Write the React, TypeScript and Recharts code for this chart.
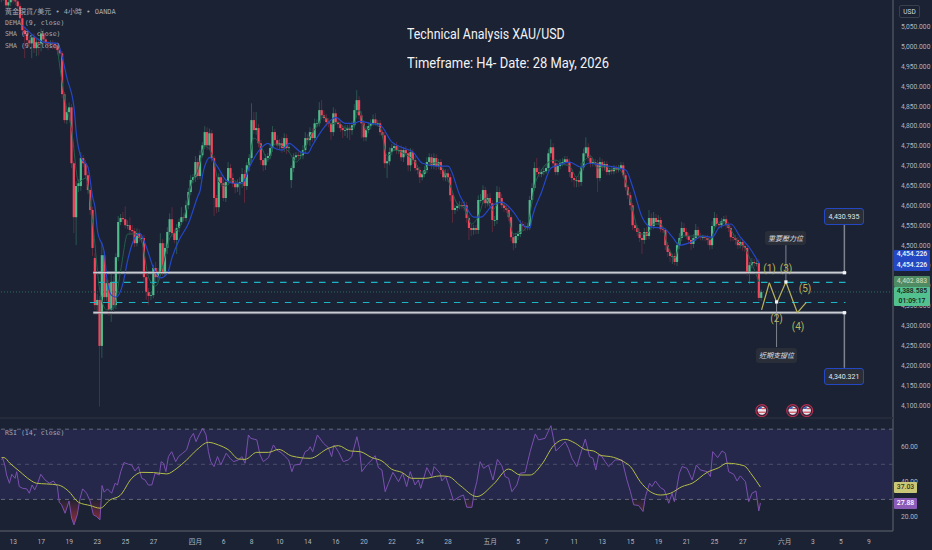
import React from "react";
import {
  ComposedChart, Bar, Line, Area, XAxis, YAxis, ReferenceLine, ReferenceArea, ReferenceDot,
} from "recharts";

// ---------- price pane data ----------
const closes = [
  5135,5125,5102,5110,5120,5115,5112,5100,5070,5040,
  5030,5015,5007,5022,4995,5010,5007,5032,5017,5007,
  5005,5007,5005,5002,4990,4982,4880,4815,4835,4847,
  4707,4572,4650,4657,4720,4707,4677,4640,4590,4495,
  4352,4365,4250,4477,4372,4407,4340,4410,4352,4472,
  4560,4570,4567,4552,4552,4540,4537,4507,4532,4520,
  4520,4422,4385,4375,4377,4445,4422,4435,4507,4435,
  4495,4535,4567,4532,4515,4545,4560,4572,4570,4602,
  4635,4665,4672,4710,4675,4727,4752,4785,4752,4782,
  4720,4620,4597,4672,4657,4620,4660,4695,4670,4657,
  4647,4657,4660,4680,4650,4702,4720,4815,4790,4795,
  4757,4715,4702,4720,4725,4745,4785,4765,4752,4757,
  4745,4770,4745,4747,4695,4722,4727,4725,4727,4740,
  4770,4765,4785,4770,4807,4807,4840,4827,4820,4810,
  4807,4785,4832,4810,4805,4795,4790,4790,4795,4790,
  4802,4840,4865,4827,4807,4772,4790,4800,4807,4817,
  4807,4807,4785,4777,4707,4712,4735,4745,4750,4740,
  4740,4722,4740,4732,4702,4735,4715,4695,4690,4672,
  4680,4690,4710,4722,4702,4720,4700,4710,4690,4672,
  4682,4672,4627,4590,4595,4600,4602,4600,4602,4570,
  4545,4540,4545,4540,4615,4615,4640,4607,4620,4607,
  4565,4565,4635,4620,4602,4595,4590,4572,4522,4507,
  4525,4530,4555,4550,4547,4550,4615,4645,4695,4685,
  4680,4685,4687,4695,4732,4747,4707,4685,4700,4707,
  4710,4717,4710,4685,4670,4665,4665,4660,4697,4732,
  4747,4720,4707,4710,4707,4670,4710,4697,4705,4685,
  4690,4687,4695,4690,4695,4702,4677,4647,4627,4602,
  4552,4545,4535,4520,4515,4535,4525,4570,4550,4570,
  4560,4565,4542,4540,4502,4485,4475,4475,4460,4502,
  4520,4545,4535,4525,4515,4505,4520,4540,4525,4522,
  4522,4520,4515,4502,4550,4570,4555,4552,4562,4567,
  4552,4545,4522,4520,4515,4502,4510,4500,4495,4435,
  4452,4460,4457,4457,4370,4385,
];
const upperWicks = [
  8,10,12,8,10,8,10,12,8,10,
  8,6,10,8,10,8,10,12,10,8,
  6,8,8,6,8,5,6,6,8,12,
  8,6,12,10,15,8,8,10,6,8,
  12,15,10,32,10,10,8,20,15,10,
  15,10,15,32,12,20,12,8,12,10,
  10,8,10,10,8,8,15,10,25,10,
  12,12,15,30,10,10,8,25,10,12,
  10,12,8,15,10,12,8,15,12,12,
  8,6,8,10,8,10,8,15,10,12,
  8,10,12,15,10,8,10,42,20,40,
  10,8,6,10,8,12,15,8,12,10,
  15,12,10,8,6,10,8,8,10,12,
  15,10,12,10,12,10,20,25,12,10,
  10,8,15,10,8,10,8,12,8,10,
  10,15,25,10,10,8,10,8,10,12,
  15,8,8,6,8,10,12,10,8,10,
  8,12,8,10,10,10,8,10,6,8,
  8,10,12,10,8,12,10,8,8,6,
  10,10,8,6,8,8,10,8,10,8,
  8,10,8,8,12,15,12,8,10,12,
  8,10,15,12,10,8,10,8,6,8,
  8,8,10,8,10,8,10,12,15,25,
  12,8,8,10,10,20,10,8,8,10,
  10,8,8,8,6,6,8,10,12,12,
  25,10,8,8,8,8,12,8,8,8,
  6,8,8,8,8,8,8,6,6,8,
  6,6,8,8,10,10,12,20,12,15,
  10,12,8,8,6,8,6,6,8,8,
  12,15,12,10,8,8,10,15,8,8,
  6,6,8,8,12,15,10,8,8,8,
  10,8,6,8,8,8,8,8,6,6,
  8,10,8,8,10,6,
];
const lowerWicks = [
  10,12,15,8,10,8,10,12,15,12,
  60,12,10,37,12,20,30,20,15,8,
  15,10,12,10,12,8,10,8,10,20,
  12,40,70,15,12,10,8,10,12,20,
  12,15,152,30,12,10,15,30,20,10,
  10,8,8,8,10,12,10,10,8,10,
  10,15,20,22,10,8,10,12,10,10,
  10,15,8,10,8,35,10,8,10,8,
  10,8,8,12,10,8,6,10,12,10,
  10,45,15,12,10,8,10,8,12,10,
  15,12,30,15,42,10,15,12,10,12,
  10,12,15,12,10,8,10,10,8,10,
  12,10,15,10,20,10,8,8,8,10,
  10,12,15,10,8,10,8,6,8,10,
  10,20,10,8,10,10,20,15,20,25,
  12,8,8,10,37,10,10,8,8,6,
  6,8,8,8,12,37,10,8,8,10,
  10,10,12,8,15,15,10,8,10,15,
  8,8,8,8,10,10,10,8,10,8,
  10,12,15,32,10,8,8,8,12,12,
  30,15,12,10,10,8,10,12,8,10,
  30,15,10,10,8,10,8,10,10,18,
  12,10,8,10,10,8,10,8,8,8,
  8,8,8,6,8,10,10,8,8,8,
  8,8,10,12,10,18,18,12,10,8,
  8,8,10,8,10,35,8,10,8,8,
  8,8,8,8,6,8,8,8,10,12,
  12,8,10,10,35,10,10,8,10,8,
  8,8,8,8,12,12,15,20,8,10,
  10,8,8,8,10,15,10,8,8,8,
  8,8,12,12,10,8,8,8,8,8,
  8,10,10,8,12,10,8,12,10,10,
  30,8,8,8,8,8,
];
// opens that do not sit on the previous close (gaps)
const gapOpens: Record<number, number> = { 0: 5120, 34: 4650, 40: 4470, 43: 4250, 124: 4665, 193: 4627 };

const smaIdx = [9,15,18,24,26,28,31,32,34,37,39,40,41,44,45,47,49,52,54,56,59,62,65,68,71,73,76,80,84,85,86,88,89,92,96,99,103,106,111,114,116,120,123,128,131,133,138,143,147,151,153,158,162,167,172,176,180,186,191,196,199,202,205,210,214,219,223,226,227,231,235,238,243,248,251,257,267,270,274,278,283,287,290,295,300,304,307,312,316,320,324];
const smaVal = [5052,5020,5010,5007,4972,4920,4847,4782,4722,4697,4622,4597,4540,4482,4422,4377,4372,4407,4465,4507,4532,4497,4445,4420,4432,4472,4515,4557,4625,4640,4677,4715,4722,4702,4665,4657,4657,4697,4745,4757,4747,4740,4757,4735,4732,4752,4797,4822,4807,4807,4812,4807,4802,4760,4745,4735,4707,4700,4700,4627,4595,4572,4572,4602,4610,4585,4552,4545,4572,4635,4695,4702,4710,4697,4707,4702,4690,4647,4572,4547,4545,4522,4502,4510,4525,4522,4547,4555,4522,4495,4457];
const demaIdx = [24,27,30,33,36,39,42,45,48,51,54,57,60,63,66,69,72,75,78,81,84,87,90,93,96,99,102,105,108,111,114,117,120,123,126,129,132,135,138,141,144,147,150,153,156,159,162,165,168,171,174,177,180,183,186,189,192,195,198,201,204,207,210,213,216,219,222,225,228,231,234,237,240,243,246,249,252,255,258,261,264,267,270,273,276,279,282,285,288,291,294,297,300,303,306,309,312,315,318,321,324];
const demaVal = [4990,4870,4790,4660,4670,4560,4390,4340,4345,4440,4530,4530,4510,4420,4400,4450,4520,4540,4570,4650,4690,4750,4730,4660,4650,4665,4655,4680,4770,4750,4715,4755,4750,4735,4710,4735,4775,4800,4825,4805,4810,4795,4795,4840,4790,4805,4795,4725,4740,4735,4725,4710,4680,4705,4708,4690,4650,4605,4595,4555,4575,4620,4590,4610,4595,4530,4535,4550,4650,4690,4710,4715,4705,4700,4672,4710,4725,4695,4700,4692,4692,4660,4590,4530,4530,4555,4555,4500,4470,4525,4525,4525,4525,4515,4555,4560,4540,4510,4495,4455,4410];

// ---------- RSI pane data ----------
const rsiX = [0,0.5,1.4,2.2,3.4,4.4,5.8,6.5,7.6,9.1,10.8,11.9,13.1,14.2,15.3,16.8,18.6,20.5,22.2,23.9,24.7,25.7,27.2,28.9,30,31,32.4,33.6,34.7,36.4,37.9,39.3,40.7,42.1,43,43.9,45.3,47.1,48.6,49.6,51,52.4,54.3,55.7,57.1,58.6,60,61.4,62.8,64.3,65.7,67.5,68.3,69.3,70.3,71.4,72.8,74.5,75.7,77.5,79.2,80.7,82.1,83.2,84.5,86.1,87.5,88.5,89.5,90.9,92.4,93.8,96.1,97.8,99.2,101.4,102.8,104.2,105.6,106.6,109.2,110.6,112,114.2,116.3,117.7,119.9,121.3,122.8,124.2,125.2,127.7,129.9,131.3,
  132,133.1,135.1,137.7,139.8,141.2,142.2,144.1,146.2,148.4,149.8,152,153.1,154.1,156.2,158.4,159.8,161.2,162.7,164.1,165.5,167.4,169.8,171.6,173.3,174.8,176.9,178.3,179.3,181.9,184,185,187.6,188.3,190,191.9,193.3,195.9,197.6,199,201.2,202.2,203.3,204.7,206.2,208.3,210.2,212.1,214,215.4,216.9,218.3,220.4,221.9,224,226.1,228.3,229.7,232.5,235,237.1,239,241.1,242.5,244,246.1,247.5,249.7,251.5,253,254.2,255.4,256.8,258.2,259.7,
  260.4,262.5,265.4,267.5,269,270.4,272.5,274.4,275.4,277.2,278.2,279.7,281.8,283.5,285.4,286.8,287.8,289.9,291.1,293.2,295.4,297.2,298.9,301.8,303.2,304.2,306.3,308.2,309.6,311,313.2,314.6,316,318.2,319.6,321,322.7,323.9,324.6];
const rsiVal = [52.5,53.4,49.6,43.9,39.2,44.3,42,45.8,37.3,36.3,36,33.5,38.2,35.4,38.6,44.3,41.1,39.2,40.5,37.3,28.4,26.9,22.1,29.1,19.3,15.5,21.2,30.6,36,33.5,29.1,21.2,20.2,18.3,37.9,34.1,36,33.5,39.2,38.2,45.8,51,50,49.6,46.2,48.7,42,41.1,38.2,38.2,44.9,43.9,51.5,50.6,45.8,54.4,57.2,51.5,54.4,56.3,58.2,64.8,67.6,62.9,66.7,70.5,66.7,57.2,51.5,48.7,54.4,49.6,56.3,53.4,51.5,52.5,54.4,50.6,66.7,64.8,63.9,55.3,51.5,53.8,61,58.2,56.3,54.4,52.5,45.8,49.6,50,57.2,58.2,
  60,57.2,66.7,62,59.5,54.4,61,57.2,51.5,52.5,54.4,65.7,59.1,45.8,49.6,52.5,54.9,48.1,46.8,34.4,39.2,45.4,40.1,44.9,37.3,45.8,38.2,41.1,36.3,48.1,43,48.7,44.9,40.5,43,35.4,29.3,31.6,32.5,25.5,25.5,34.4,40.1,51.5,47.7,49.6,41.1,52.8,49.2,43,42,34.4,38.2,44.9,45.4,57.2,67.3,63.9,64.8,72,57.6,60,62.9,59.1,53.4,48.7,55.3,64.4,54.4,53.4,46.8,55.3,54.4,51.5,48.7,
  49.6,52.5,52.5,41.1,34.4,26.9,26.5,23.1,31.6,39.2,37.3,40.5,36.7,35.4,27.8,33.5,28.7,44.9,48.7,47.7,41.1,49.6,46.8,45.8,43,57.2,53.8,57.6,56.3,45.8,44.3,40.5,43.4,40.1,28.7,33.5,34.8,23.4,27.88];
const rsiSmaX = [0,1.1,3.6,7.9,12.2,15,19.3,24.3,28.6,32.9,37.9,42.2,46.4,50.7,55.7,60,65,70.7,75,79.2,83.5,88.5,92.8,97.1,101.4,104.2,109.2,114.2,118.5,124.2,132,139.8,144.1,149.1,153.4,158.4,162.7,166.9,171.2,175.5,181.2,187.6,191.2,196.2,203.3,210.4,216.9,221.9,226.1,231.1,236.1,241.1,245.4,249.7,253.2,256.8,260.4,266.1,269,273.2,277.5,281.8,286.1,291.1,295.4,301.8,306.8,310.3,317.5,321,324.6];
const rsiSmaVal = [53.8,53.8,50.6,45.8,41.1,39.2,38.8,38.2,34.8,28.4,26.5,25,29.7,32.2,42,45.4,45.3,44.5,47.7,52.5,58.2,62.5,61,58.2,53,52.8,56.8,56.8,58.5,54.7,53.4,59.1,60.6,57.6,57.2,53.8,51.9,47.2,45.4,42,42,43.4,43,37.9,31.6,38.6,47.3,43.9,43.9,50,60.6,64.2,62,58.3,57.6,54.9,54.4,51.5,48.7,40.1,34.4,32.5,33.5,37.3,39.2,45.4,48.1,50.6,49.2,43.9,37.03];

// ---------- axes ----------
const priceTicks = [4100,4150,4200,4250,4300,4350,4400,4450,4500,4550,4600,4650,4700,4750,4800,4850,4900,4950,5000,5050];
const timeTicks = [5,17,29,41,53,65,83,95,107,119,131,143,155,167,179,191,209,221,233,245,257,269,281,293,305,317,335,347,359,371];
const timeLabels = ["13","17","19","23","25","27","四月","6","8","10","14","16","20","22","24","28","五月","5","7","11","13","15","19","21","25","27","六月","3","5","9"];
const rsiTicks = [20,40,60];

// ---------- drawings on the price pane ----------
const waveX = [325.1,328.4,331.6,335.5,340.4,344.1];
const waveY = [4340,4408,4358,4410,4333,4358];
const flagX = [325.2,338.4,344.4];
const flagPrice = 4088;

const BG = "#1a2234";
const UP = "#4fbb8b";
const DOWN = "#f2465c";
const UPW = "#2f6358";
const DOWNW = "#6d2c40";
const AXIS = "#4b505c";
const TICK = "#b2b5be";
const SANS = "Roboto, 'Noto Sans CJK TC', sans-serif";
const MONO = "'DejaVu Sans Mono', 'Noto Sans CJK TC', monospace";

const X_DOMAIN: [number, number] = [-0.64, 381.3];

const priceRows = closes.map((close, i) => {
  const open = gapOpens[i] ?? (i > 0 ? closes[i - 1] : close);
  const high = Math.max(open, close) + (upperWicks[i] ?? 8);
  const low = Math.min(open, close) - (lowerWicks[i] ?? 8);
  const s = smaIdx.indexOf(i);
  const d = demaIdx.indexOf(i);
  return {
    x: i, open, close, high, low,
    range: [low, high],
    sma: s >= 0 ? smaVal[s] : null,
    dema: d >= 0 ? demaVal[d] : null,
  };
});
const rsiRows = rsiX.map((x, i) => ({ x, rsi: rsiVal[i], dip: [30, Math.min(rsiVal[i], 30)] }));
const rsiSmaRows = rsiSmaX.map((x, i) => ({ x, v: rsiSmaVal[i] }));

function Candle(props: any) {
  const { x, y, width, height, payload } = props;
  const span = payload.high - payload.low;
  const k = span > 0 ? height / span : 0;
  const cx = x + width / 2;
  const top = y + (payload.high - Math.max(payload.open, payload.close)) * k;
  const h = Math.max(0.8, Math.abs(payload.open - payload.close) * k);
  const up = payload.close >= payload.open;
  return (
    <g>
      <line x1={cx} x2={cx} y1={y} y2={y + height} stroke={up ? UPW : DOWNW} strokeWidth={0.8} />
      <rect x={cx - 1.1} y={top} width={2.2} height={h} fill={up ? UP : DOWN} />
    </g>
  );
}

function FlagDot(props: any) {
  const { cx, cy } = props;
  return (
    <g>
      <circle cx={cx} cy={cy} r={6} fill="#3a2038" stroke="#b03050" strokeWidth={1.2} />
      <circle cx={cx} cy={cy} r={4.2} fill="#e8e8ee" />
      <path d={`M${cx - 4} ${cy - 1.6} A4.2 4.2 0 0 1 ${cx} ${cy - 4.2} L${cx} ${cy - 1.6} Z`} fill="#3f5fb5" />
      <rect x={cx - 3.6} y={cy + 1} width={7.2} height={1.2} fill="#d04a5a" />
      <rect x={cx} y={cy - 2.6} width={3.4} height={1.2} fill="#d04a5a" />
    </g>
  );
}

function EndHandle(props: any) {
  const { cx, cy } = props;
  return <rect x={cx - 1.6} y={cy - 1.6} width={3.2} height={3.2} fill="#f2f3f5" />;
}

const abs = (left: number, top: number, extra: React.CSSProperties = {}): React.CSSProperties => ({
  position: "absolute", left, top, whiteSpace: "nowrap", ...extra,
});

function PriceTag({ left, top, width, height, bg, color, lines }: any) {
  return (
    <div style={abs(left, top, {
      width, height, background: bg, color, fontFamily: SANS, fontSize: 6.8, fontWeight: 500,
      display: "flex", flexDirection: "column", justifyContent: "space-around", alignItems: "center", borderRadius: 1,
    })}>
      {lines.map((t: string) => <div key={t} style={{ lineHeight: "9px" }}>{t}</div>)}
    </div>
  );
}

function NoteBox({ left, top, width, height, text, border, italic }: any) {
  return (
    <div style={abs(left, top, {
      width, height, boxSizing: "border-box", background: "#2a2e39", color: "#e4e6ea",
      border: border ? `1px solid ${border}` : "none", borderRadius: 3,
      display: "flex", alignItems: "center", justifyContent: "center",
      fontFamily: SANS, fontSize: 7, fontStyle: italic ? "italic" : "normal",
    })}>{text}</div>
  );
}

function WaveLabel({ left, top, text }: any) {
  return <div style={abs(left, top, { color: "#b8b45a", fontFamily: SANS, fontSize: 10, lineHeight: "12px", transform: "translate(-50%,-50%)" })}>{text}</div>;
}

const titleStyle = (sx: number): React.CSSProperties => ({
  color: "#f2f3f5", fontFamily: "Roboto, sans-serif", fontSize: 14, lineHeight: "16px",
  transform: `scaleX(${sx})`, transformOrigin: "left center",
});

export default function App() {
  return (
    <div style={{ position: "absolute", left: 0, top: 0, width: 932, height: 550, background: BG, overflow: "hidden" }}>
      <div style={abs(0, 0)}>
        <ComposedChart width={932} height={419} data={priceRows} margin={{ top: 0, right: 0, bottom: 0, left: 0 }}>
          <XAxis dataKey="x" type="number" domain={X_DOMAIN} allowDataOverflow hide />
          <YAxis
            orientation="right" width={39} domain={[4067, 5115.6]} allowDataOverflow
            ticks={priceTicks} interval={0} tickLine={false}
            axisLine={{ stroke: AXIS, strokeWidth: 1.5 }}
            tick={{ fill: TICK, fontSize: 6.7, fontFamily: SANS }}
            tickFormatter={(v: number) => v.toLocaleString("en-US") + ".000"}
          />
          <ReferenceLine y={4385} stroke="#2f6b5a" strokeDasharray="1 2" strokeWidth={1} />
          <ReferenceLine segment={[{ x: 360.5, y: 4433 }, { x: 360.5, y: 4555 }]} stroke="#7f838d" strokeWidth={1.5} />
          <ReferenceLine segment={[{ x: 360.5, y: 4333 }, { x: 360.5, y: 4195 }]} stroke="#7f838d" strokeWidth={1.5} />
          <ReferenceArea x1={39.1} x2={361.5} y1={4429} y2={4437.5} fill="#7f838d" fillOpacity={1} stroke="#1a2234" strokeWidth={0.6} />
          <ReferenceArea x1={39.1} x2={361.5} y1={4329} y2={4337.5} fill="#7f838d" fillOpacity={1} stroke="#1a2234" strokeWidth={0.6} />
          <ReferenceLine segment={[{ x: 41.3, y: 4409 }, { x: 361, y: 4409 }]} stroke="#1db5c6" strokeWidth={1.1} strokeDasharray="6.5 6.5" />
          <ReferenceLine segment={[{ x: 37.8, y: 4358.7 }, { x: 361, y: 4358.7 }]} stroke="#1db5c6" strokeWidth={1.1} strokeDasharray="6.5 6.5" />
          <Bar dataKey="range" barSize={2} isAnimationActive={false} shape={<Candle />} />
          <Line dataKey="dema" type="monotone" connectNulls dot={false} stroke="#22604c" strokeWidth={1} isAnimationActive={false} />
          <Line dataKey="sma" type="monotone" connectNulls dot={false} stroke="#2448c8" strokeWidth={1.2} isAnimationActive={false} />
          <ReferenceLine segment={[{ x: 39.3, y: 4433.2 }, { x: 361.3, y: 4433.2 }]} stroke="#c9ccd2" strokeWidth={1.1} />
          <ReferenceLine segment={[{ x: 39.3, y: 4333.2 }, { x: 361.3, y: 4333.2 }]} stroke="#c9ccd2" strokeWidth={1.1} />
          {waveX.slice(1).map((x, i) => (
            <ReferenceLine key={x} segment={[{ x: waveX[i], y: waveY[i] }, { x, y: waveY[i + 1] }]} stroke="#b8b45a" strokeWidth={1.2} />
          ))}
          <ReferenceLine segment={[{ x: 335.5, y: 4410 }, { x: 335.5, y: 4502 }]} stroke="#9a9da6" strokeWidth={0.8} />
          <ReferenceLine segment={[{ x: 331.5, y: 4360 }, { x: 331.5, y: 4247 }]} stroke="#9a9da6" strokeWidth={0.8} />
          <ReferenceDot x={335.5} y={4410} r={1.4} shape={<EndHandle />} />
          <ReferenceDot x={331.5} y={4360} r={1.4} shape={<EndHandle />} />
          <ReferenceDot x={360.5} y={4433} r={1.4} shape={<EndHandle />} />
          <ReferenceDot x={360.5} y={4333} r={1.4} shape={<EndHandle />} />
          {flagX.map((x) => <ReferenceDot key={x} x={x} y={flagPrice} r={6} shape={<FlagDot />} />)}
        </ComposedChart>
      </div>

      <div style={abs(0, 419)}>
        <ComposedChart width={932} height={131} data={rsiRows} margin={{ top: 0, right: 0, bottom: 0, left: 0 }}>
          <defs>
            <linearGradient id="dipFill" gradientUnits="userSpaceOnUse" x1="0" y1="80" x2="0" y2="105">
              <stop offset="0%" stopColor="#8a2c3c" stopOpacity={0.05} />
              <stop offset="100%" stopColor="#a5303f" stopOpacity={0.95} />
            </linearGradient>
          </defs>
          <XAxis
            dataKey="x" type="number" domain={X_DOMAIN} allowDataOverflow height={19}
            ticks={timeTicks} interval={0} tickLine={false}
            axisLine={{ stroke: AXIS, strokeWidth: 1.5 }}
            tick={{ fill: TICK, fontSize: 6.7, fontFamily: SANS }}
            tickFormatter={(v: number) => timeLabels[timeTicks.indexOf(v)] ?? ""}
          />
          <YAxis
            orientation="right" width={39} domain={[12, 75.8]} allowDataOverflow
            ticks={rsiTicks} interval={0} tickLine={false}
            axisLine={{ stroke: AXIS, strokeWidth: 1.5 }}
            tick={{ fill: TICK, fontSize: 6.7, fontFamily: SANS }}
            tickFormatter={(v: number) => v.toFixed(2)}
          />
          <ReferenceArea y1={30} y2={70} fill="#25284a" fillOpacity={1} stroke="none" />
          <ReferenceLine y={70} stroke="#787b86" strokeDasharray="4 4" strokeWidth={0.8} />
          <ReferenceLine y={50} stroke="#565a72" strokeDasharray="4 4" strokeWidth={0.8} />
          <ReferenceLine y={30} stroke="#787b86" strokeDasharray="4 4" strokeWidth={0.8} />
          <Area dataKey="dip" type="linear" stroke="none" fill="url(#dipFill)" fillOpacity={1} isAnimationActive={false} />
          <Line dataKey="rsi" type="linear" dot={false} stroke="#7a50b0" strokeWidth={1} isAnimationActive={false} />
          <Line data={rsiSmaRows} dataKey="v" type="monotone" dot={false} stroke="#b4bd48" strokeWidth={1} isAnimationActive={false} />
        </ComposedChart>
      </div>

      <div style={abs(0, 417, { width: 893, height: 1.5, background: "#252b3a" })} />

      {/* legend */}
      <div style={abs(5, 7, { color: "#a6a9b2", fontFamily: MONO, fontSize: 6.6, lineHeight: "11.2px" })}>
        <div style={{ fontSize: 7 }}>黃金現貨/美元 • 4小時 • OANDA</div>
        <div>DEMA (9, close)</div>
        <div>SMA (9, close)</div>
        <div>SMA (9, close)</div>
      </div>

      {/* title */}
      <div style={abs(407, 26, titleStyle(0.885))}>Technical Analysis XAU/USD</div>
      <div style={abs(407, 55, titleStyle(0.925))}>Timeframe: H4- Date: 28 May, 2026</div>

      {/* axis tags */}
      <div style={abs(899, 5, { width: 21, height: 13, boxSizing: "border-box", border: "1px solid #3a3f4c", borderRadius: 2, color: "#d8dae0", fontFamily: SANS, fontSize: 6.5, display: "flex", alignItems: "center", justifyContent: "center" })}>USD</div>
      <PriceTag left={894} top={249.5} width={36} height={21.5} bg="#2448c4" color="#f2f4fa" lines={["4,454.226", "4,454.226"]} />
      <PriceTag left={894} top={276} width={36} height={11} bg="#4e8a62" color="#c8d2b0" lines={["4,402.883"]} />
      <PriceTag left={894} top={287} width={36} height={19} bg="#52c08f" color="#14201c" lines={["4,388.585", "01:09:17"]} />
      <PriceTag left={894} top={482} width={23} height={10.5} bg="#c9c878" color="#35361a" lines={["37.03"]} />
      <PriceTag left={894} top={498} width={23} height={10.5} bg="#8a5cb8" color="#ffffff" lines={["27.88"]} />

      {/* annotations */}
      <NoteBox left={824} top={208} width={40} height={17} text="4,430.935" border="#2448c4" />
      <NoteBox left={824} top={368} width={40} height={17} text="4,340.321" border="#2448c4" />
      <NoteBox left={765} top={231} width={41} height={14} text="重要壓力位" italic />
      <NoteBox left={756} top={347.5} width={41} height={15} text="近期支撐位" italic />
      <WaveLabel left={769.5} top={269} text="(1)" />
      <WaveLabel left={786} top={269} text="(3)" />
      <WaveLabel left={776.5} top={319} text="(2)" />
      <WaveLabel left={798} top={327} text="(4)" />
      <WaveLabel left={805} top={289} text="(5)" />

      <div style={abs(5, 428, { color: "#a6a9b2", fontFamily: MONO, fontSize: 6.6, lineHeight: "11px" })}>RSI (14, close)</div>
    </div>
  );
}
